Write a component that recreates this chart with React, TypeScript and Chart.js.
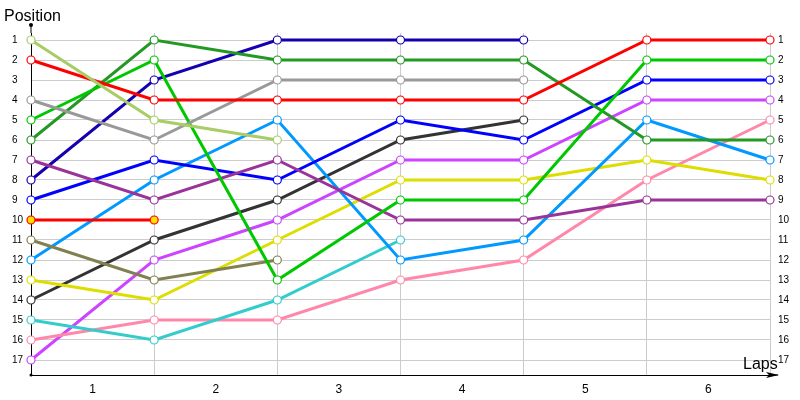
import React, { useEffect, useRef } from "react";
import { Chart, registerables } from "chart.js";

Chart.register(...registerables);

const laps = [0, 1, 2, 3, 4, 5, 6];
const lapLabels = ["1", "2", "3", "4", "5", "6"];
const positions = [1, 2, 3, 4, 5, 6, 7, 8, 9, 10, 11, 12, 13, 14, 15, 16, 17];

const lightGreen = [1, 5, 6, null, null, null, null];
const red = [2, 4, 4, 4, 4, 1, 1];
const gray = [4, 6, 3, 3, 3, null, null];
const green = [5, 2, 13, 9, 9, 2, 2];
const darkGreen = [6, 1, 2, 2, 2, 6, 6];
const purple = [7, 9, 7, 10, 10, 9, 9];
const navy = [8, 3, 1, 1, 1, null, null];
const blue = [9, 7, 8, 5, 6, 3, 3];
const redYellow = [10, 10, null, null, null, null, null];
const olive = [11, 13, 12, null, null, null, null];
const skyBlue = [12, 8, 5, 12, 11, 5, 7];
const yellow = [13, 14, 11, 8, 8, 7, 8];
const charcoal = [14, 11, 9, 6, 5, null, null];
const turquoise = [15, 16, 14, 11, null, null, null];
const pink = [16, 15, 15, 13, 12, 8, 5];
const violet = [17, 12, 10, 7, 7, 4, 4];

const seriesList: { data: (number | null)[]; color: string; fill?: string }[] = [
  { data: lightGreen, color: "#a8cc66" },
  { data: red, color: "#ff0000" },
  { data: gray, color: "#999999" },
  { data: green, color: "#00c800" },
  { data: darkGreen, color: "#229922" },
  { data: purple, color: "#993399" },
  { data: navy, color: "#1400b0" },
  { data: blue, color: "#0000ff" },
  { data: redYellow, color: "#ff0000", fill: "#ffe000" },
  { data: olive, color: "#808050" },
  { data: skyBlue, color: "#0099ff" },
  { data: yellow, color: "#dddd00" },
  { data: charcoal, color: "#333333" },
  { data: turquoise, color: "#33cccc" },
  { data: pink, color: "#ff88aa" },
  { data: violet, color: "#cc44ff" },
];

const decorPlugin = {
  id: "decor",
  afterDraw(chart: any) {
    const ctx = chart.ctx;
    const area = chart.chartArea;
    ctx.save();
    ctx.fillStyle = "#000";
    ctx.strokeStyle = "#000";
    ctx.lineWidth = 1;
    ctx.beginPath();
    ctx.moveTo(area.left, area.top);
    ctx.lineTo(area.left, 25);
    ctx.stroke();
    ctx.beginPath();
    ctx.arc(area.left, 25, 2, 0, Math.PI * 2);
    ctx.fill();
    ctx.beginPath();
    ctx.arc(area.left, area.bottom, 1.5, 0, Math.PI * 2);
    ctx.fill();
    ctx.beginPath();
    ctx.moveTo(area.right, area.bottom);
    ctx.lineTo(778, area.bottom);
    ctx.stroke();
    ctx.beginPath();
    ctx.moveTo(779, area.bottom);
    ctx.lineTo(766, area.bottom - 3);
    ctx.lineTo(769, area.bottom);
    ctx.lineTo(766, area.bottom + 3);
    ctx.closePath();
    ctx.fill();
    ctx.font = "16px 'Liberation Sans', Arial, sans-serif";
    ctx.textBaseline = "alphabetic";
    ctx.textAlign = "left";
    ctx.fillText("Position", 4, 21);
    ctx.fillText("Laps", 743, 369);
    ctx.restore();
  },
};

export default function App() {
  const ref = useRef<HTMLCanvasElement | null>(null);
  useEffect(() => {
    document.body.style.margin = "0";
    const canvas = ref.current;
    if (!canvas) return;
    const datasets = seriesList.map((s) => ({
      data: s.data.map((v, i) => ({ x: laps[i], y: v })),
      borderColor: s.color,
      backgroundColor: s.fill || "#ffffff",
      pointBackgroundColor: s.fill || "#ffffff",
      pointBorderColor: s.color,
      pointRadius: 4,
      pointBorderWidth: 1.2,
      borderWidth: 3,
      tension: 0,
      spanGaps: false,
      clip: false as any,
    }));
    const interval = (770 - 31) / 6;
    const chart = new Chart(canvas, {
      type: "line",
      data: { datasets: datasets as any },
      plugins: [decorPlugin],
      options: {
        animation: false,
        responsive: false,
        maintainAspectRatio: false,
        layout: { padding: { left: 12, right: 0, top: 33, bottom: 0 } },
        plugins: { legend: { display: false }, tooltip: { enabled: false }, title: { display: false } },
        scales: {
          x: {
            type: "linear",
            min: 0,
            max: 6,
            afterBuildTicks: (axis: any) => {
              axis.ticks = laps.map((v) => ({ value: v }));
            },
            afterFit: (axis: any) => {
              axis.height = 25;
            },
            grid: { color: "#cccccc", drawTicks: false, lineWidth: 1 },
            border: { color: "#000000", width: 1 },
            ticks: {
              autoSkip: false,
              maxRotation: 0,
              padding: 7,
              labelOffset: interval / 2,
              color: "#000",
              font: { family: "'Liberation Sans', Arial, sans-serif", size: 12 },
              callback: (v: any) => (v < 6 ? lapLabels[v] : ""),
            },
          },
          y: {
            type: "linear",
            position: "left",
            reverse: true,
            min: 0.65,
            max: 17.75,
            afterBuildTicks: (axis: any) => {
              axis.ticks = positions.map((v) => ({ value: v }));
            },
            afterFit: (axis: any) => {
              axis.width = 19;
            },
            grid: { color: "#cccccc", drawTicks: false, lineWidth: 1 },
            border: { color: "#000000", width: 1 },
            ticks: {
              crossAlign: "far",
              padding: 6,
              color: "#000",
              font: { family: "'Liberation Sans', Arial, sans-serif", size: 10 },
              callback: (v: any) => String(v),
            },
          },
          y2: {
            type: "linear",
            position: "right",
            reverse: true,
            min: 0.65,
            max: 17.75,
            afterBuildTicks: (axis: any) => {
              axis.ticks = positions.map((v) => ({ value: v }));
            },
            afterFit: (axis: any) => {
              axis.width = 30;
            },
            grid: { display: false, drawTicks: false },
            border: { display: false },
            ticks: {
              padding: 8,
              color: "#000",
              font: { family: "'Liberation Sans', Arial, sans-serif", size: 10 },
              callback: (v: any) => String(v),
            },
          },
        },
      } as any,
    });
    return () => chart.destroy();
  }, []);
  return (
    <div style={{ position: "absolute", left: 0, top: 0, width: 800, height: 400 }}>
      <canvas ref={ref} width={800} height={400} style={{ width: 800, height: 400, display: "block" }} />
    </div>
  );
}
